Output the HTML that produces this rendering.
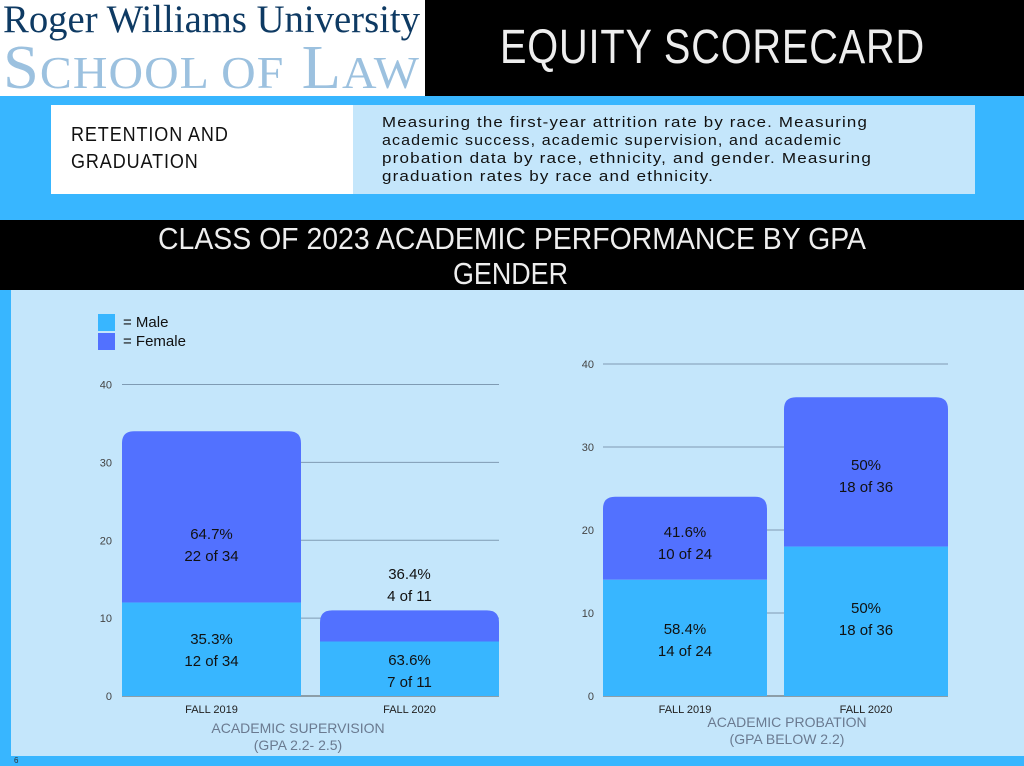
<!DOCTYPE html>
<html><head><meta charset="utf-8">
<style>
body{margin:0;width:1024px;height:766px;overflow:hidden;background:#38b6ff;font-family:"Liberation Sans",sans-serif;position:relative}
.abs{position:absolute}
.fit{white-space:nowrap;transform-origin:left top;display:inline-block}
</style></head><body>
<div class="abs" style="left:0;top:0;width:425px;height:96px;background:#fff">
 <div class="abs fit" data-w="417" style="left:3px;top:-3px;font-family:'Liberation Serif',serif;font-size:39px;color:#0e3a63">Roger Williams University</div>
 <div class="abs fit" data-w="417" style="left:3px;top:33px;font-family:'Liberation Serif',serif;font-size:62px;color:#9cc1df;letter-spacing:1px">S<span style="font-size:46px">CHOOL OF</span> L<span style="font-size:46px">AW</span></div>
</div>
<div class="abs" style="left:425px;top:0;width:599px;height:96px;background:#000"></div>
<div class="abs fit" data-w="425" style="left:500px;top:20px;font-size:48px;color:#eee;letter-spacing:1px">EQUITY SCORECARD</div>
<div class="abs" style="left:51px;top:105px;width:302px;height:89px;background:#fff"></div>
<div class="abs" style="left:71px;top:122px;font-size:20px;line-height:27px;color:#111;letter-spacing:1px;transform:scaleX(0.9);transform-origin:left">RETENTION AND<br>GRADUATION</div>
<div class="abs" style="left:353px;top:105px;width:622px;height:89px;background:#c4e6fb"></div>
<div class="abs" style="left:382px;top:114px;font-size:14.5px;line-height:18px;color:#111;letter-spacing:1px">
 <div class="fit" data-w="486">Measuring the first-year attrition rate by race. Measuring</div><br>
 <div class="fit" data-w="460">academic success, academic supervision, and academic</div><br>
 <div class="fit" data-w="490">probation data by race, ethnicity, and gender. Measuring</div><br>
 <div class="fit" data-w="332">graduation rates by race and ethnicity.</div>
</div>
<div class="abs" style="left:0;top:220px;width:1024px;height:70px;background:#000"></div>
<div class="abs fit" data-w="708" style="left:158px;top:221px;color:#eee;font-size:31px">CLASS OF 2023 ACADEMIC PERFORMANCE BY GPA</div>
<div class="abs fit" data-w="115" style="left:453px;top:256px;color:#eee;font-size:31px">GENDER</div>
<div class="abs" style="left:11px;top:290px;width:1013px;height:466px;background:#c4e6fb"></div>
<div class="abs" style="left:14px;top:756px;font-size:8px;color:#333">6</div>
<svg class="abs" style="left:0;top:0" width="1024" height="766" id="svg">
 <rect x="98" y="314" width="17" height="17" fill="#38b6ff"/>
 <text x="123" y="327" font-size="15" fill="#111">= Male</text>
 <rect x="98" y="333" width="17" height="17" fill="#5271ff"/>
 <text x="123" y="346" font-size="15" fill="#111">= Female</text>
 <text x="298" y="733" font-size="14" fill="#6a7a90" text-anchor="middle">ACADEMIC SUPERVISION</text>
 <text x="298" y="750" font-size="14" fill="#6a7a90" text-anchor="middle">(GPA 2.2- 2.5)</text>
 <text x="787" y="727" font-size="14" fill="#6a7a90" text-anchor="middle">ACADEMIC PROBATION</text>
 <text x="787" y="744" font-size="14" fill="#6a7a90" text-anchor="middle">(GPA BELOW 2.2)</text>
</svg>
<script>
const categories=["FALL  2019","FALL 2020"];
const supMale=[12,7];
const supFemale=[22,4];
const supLabelsMale=[["35.3%","12 of 34"],["63.6%","7 of 11"]];
const supLabelsFemale=[["64.7%","22 of 34"],["36.4%","4 of 11"]];
const probMale=[14,18];
const probFemale=[10,18];
const probLabelsMale=[["58.4%","14 of 24"],["50%","18 of 36"]];
const probLabelsFemale=[["41.6%","10 of 24"],["50%","18 of 36"]];
const ticks=[0,10,20,30,40];
document.querySelectorAll('.fit').forEach(e=>{const w=e.getBoundingClientRect().width;e.style.transform='scaleX('+(+e.dataset.w/w)+')';});
const svg=document.getElementById('svg');
const NS='http://www.w3.org/2000/svg';
function mk(t,a,txt){const e=document.createElementNS(NS,t);for(const k in a)e.setAttribute(k,a[k]);if(txt!=null)e.textContent=txt;svg.appendChild(e);return e;}
function chart(cfg){
 const y=v=>cfg.y0-(v/40)*(cfg.y0-cfg.y40);
 ticks.forEach(t=>{
  if(t>0){const l=mk('line',{x1:cfg.gx1,x2:cfg.gx2,y1:y(t),y2:y(t),stroke:'#7f9bb3','stroke-width':1});
  
  }
  const tx=mk('text',{x:cfg.tx,y:y(t)+4,'font-size':11,fill:'#444','text-anchor':'end'},String(t));
  
  
 });
 const base=mk('line',{x1:cfg.gx1,x2:cfg.gx2,y1:y(0),y2:y(0),stroke:'#555','stroke-width':1});
 
 
 categories.forEach((c,i)=>{
  const x=cfg.bx[i],w=cfg.bw,m=cfg.male[i],f=cfg.female[i],r=12;
  const top=y(m+f),mid=y(m),bot=y(0);
  const fp=mk('path',{d:`M${x},${mid}V${top+r}Q${x},${top} ${x+r},${top}H${x+w-r}Q${x+w},${top} ${x+w},${top+r}V${mid}Z`,fill:'#5271ff'});
  
  
  const mr=mk('rect',{x:x,y:mid,width:w,height:bot-mid,fill:'#38b6ff'});
  
  
  const cx=x+w/2;
  [[cfg.mlab[i],cfg.mLy[i]],[cfg.flab[i],cfg.fLy[i]]].forEach(([lab,ly])=>{
   lab.forEach((s,j)=>{const t=mk('text',{x:cx,y:ly+j*22,'font-size':15,fill:'#111','text-anchor':'middle'},s);
   
   });
  });
  const xl=mk('text',{x:cx,y:y(0)+17,'font-size':11,fill:'#222','text-anchor':'middle','xml:space':'preserve'},c);
  
  
 });
}
chart({y0:696,y40:384.5,gx1:122,gx2:499,tx:112,bx:[122,320],bw:179,male:supMale,female:supFemale,mlab:supLabelsMale,flab:supLabelsFemale,mLy:[644,665],fLy:[539,579]});
chart({y0:696,y40:364,gx1:603,gx2:948,tx:594,bx:[603,784],bw:164,male:probMale,female:probFemale,mlab:probLabelsMale,flab:probLabelsFemale,mLy:[634,613],fLy:[537,470]});
</script>
</body></html>
